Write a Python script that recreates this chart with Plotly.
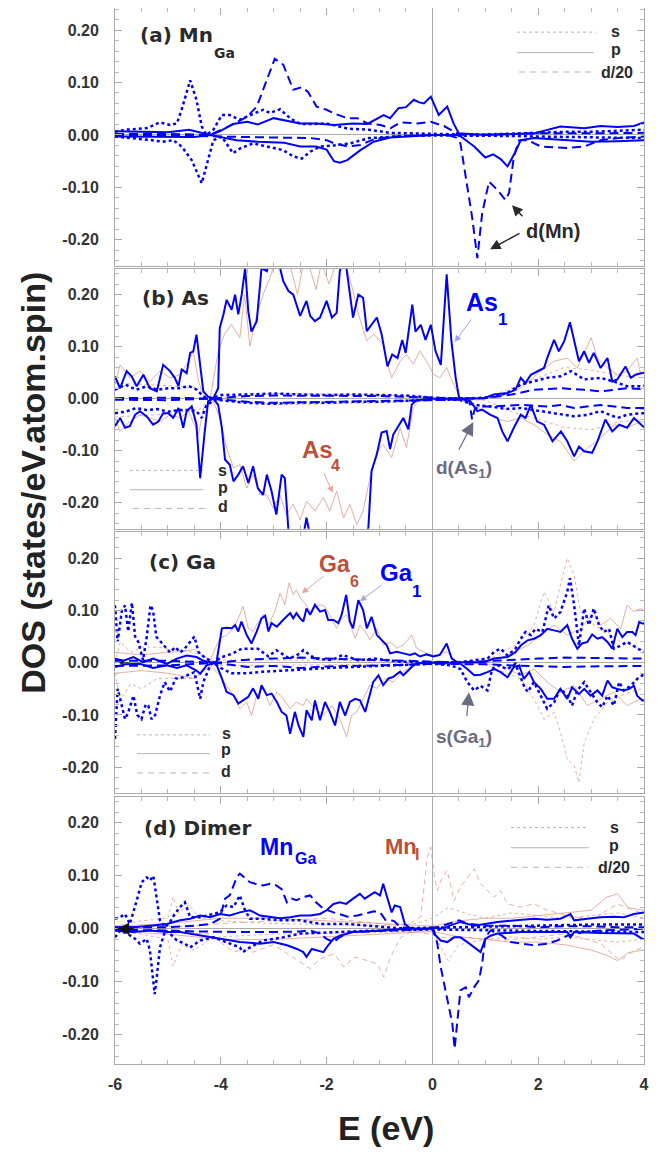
import plotly.graph_objects as go
from plotly.subplots import make_subplots

# ---------------- axis ticks ----------------
X_TICKS = [-6, -4, -2, 0, 2, 4]
X_TICK_LABELS = ["-6", "-4", "-2", "0", "2", "4"]
Y_TICKS = [-0.2, -0.1, 0.0, 0.1, 0.2]
Y_TICK_LABELS = ["-0.20", "-0.10", "0.00", "0.10", "0.20"]

# ---------------- panel (a) Mn_Ga : (E, DOS) ----------------
A_S_UP = [(-6.0,0.006),(-5.8,0.01),(-5.65,0.011),(-5.4,0.013),(-5.15,0.024),(-4.96,0.019),(-4.83,0.022),(-4.74,0.048),(-4.58,0.104),(-4.46,0.067),(-4.36,0.016),(-4.27,0.0),(-4.14,0.01),(-3.98,0.038),(-3.83,0.038),(-3.64,0.029),(-3.39,0.04),(-3.2,0.048),(-3.07,0.042),(-2.88,0.049),(-2.69,0.032),(-2.5,0.021),(-2.25,0.021),(-2.0,0.022),(-1.6,0.012),(-1.2,0.01),(-0.8,0.004),(-0.4,0.003),(0.0,0.002),(0.5,0.001),(1.0,0.001),(1.5,0.002),(2.0,0.004),(2.5,0.006),(3.0,0.006),(3.5,0.008),(4.0,0.01)]
A_S_DN = [(-6.0,-0.003),(-5.65,-0.006),(-5.3,-0.01),(-5.1,-0.013),(-4.9,-0.01),(-4.74,-0.022),(-4.55,-0.048),(-4.36,-0.092),(-4.24,-0.048),(-4.14,-0.01),(-3.98,-0.003),(-3.77,-0.035),(-3.64,-0.026),(-3.39,-0.016),(-3.13,-0.022),(-2.82,-0.029),(-2.63,-0.041),(-2.47,-0.045),(-2.31,-0.032),(-2.12,-0.022),(-1.86,-0.02),(-1.55,-0.016),(-1.2,-0.006),(-0.9,-0.004),(-0.5,-0.002),(0.0,-0.001),(0.5,-0.001),(1.0,-0.001),(1.5,-0.002),(2.0,-0.003),(2.5,-0.004),(3.0,-0.004),(3.5,-0.005),(4.0,-0.006)]
A_P_UP = [(-6.0,0.007),(-5.5,0.006),(-5.0,0.005),(-4.6,0.01),(-4.45,0.006),(-4.2,0.0),(-4.0,0.008),(-3.77,0.021),(-3.5,0.025),(-3.3,0.02),(-3.0,0.032),(-2.8,0.028),(-2.5,0.022),(-2.2,0.022),(-1.86,0.019),(-1.5,0.022),(-1.23,0.021),(-0.92,0.038),(-0.8,0.032),(-0.64,0.051),(-0.5,0.053),(-0.35,0.067),(-0.25,0.062),(-0.16,0.06),(-0.03,0.073),(0.12,0.038),(0.28,0.054),(0.4,0.022),(0.5,0.003),(1.0,0.0),(1.5,0.001),(1.92,0.003),(2.42,0.016),(2.87,0.013),(3.18,0.017),(3.5,0.015),(3.81,0.017),(4.0,0.024)]
A_P_DN = [(-6.0,-0.003),(-5.0,-0.004),(-4.5,-0.004),(-4.2,0.0),(-3.7,-0.01),(-3.3,-0.013),(-2.8,-0.015),(-2.5,-0.022),(-2.2,-0.022),(-2.0,-0.028),(-1.86,-0.05),(-1.75,-0.053),(-1.61,-0.048),(-1.36,-0.029),(-1.11,-0.013),(-0.8,-0.005),(-0.4,-0.002),(0.0,0.0),(0.5,0.0),(0.79,-0.022),(1.0,-0.043),(1.15,-0.037),(1.29,-0.046),(1.42,-0.06),(1.57,-0.032),(1.67,-0.01),(1.92,-0.006),(2.5,-0.01),(3.0,-0.013),(3.5,-0.012),(4.0,-0.01)]
A_D_UP = [(-6.0,0.002),(-5.0,0.002),(-4.2,0.0),(-3.77,0.02),(-3.5,0.035),(-3.32,0.054),(-3.13,0.105),(-2.98,0.145),(-2.82,0.134),(-2.63,0.086),(-2.47,0.091),(-2.35,0.082),(-2.19,0.054),(-2.0,0.048),(-1.86,0.041),(-1.61,0.032),(-1.42,0.032),(-1.23,0.022),(-0.98,0.019),(-0.79,0.013),(-0.6,0.024),(-0.28,0.022),(-0.03,0.025),(0.22,0.017),(0.41,0.006),(0.53,0.0),(1.0,0.001),(2.0,0.003),(3.0,0.003),(4.0,0.004)]
A_D_DN = [(-6.0,-0.002),(-4.5,-0.002),(-3.5,-0.004),(-2.8,-0.005),(-2.3,-0.006),(-2.0,-0.01),(-1.86,-0.016),(-1.6,-0.022),(-1.36,-0.019),(-1.1,-0.008),(-0.73,-0.003),(-0.03,0.0),(0.28,0.0),(0.45,-0.005),(0.53,-0.016),(0.63,-0.08),(0.75,-0.156),(0.85,-0.235),(0.94,-0.15),(1.07,-0.089),(1.23,-0.105),(1.38,-0.124),(1.45,-0.11),(1.54,-0.041),(1.64,-0.01),(1.8,-0.01),(2.05,-0.022),(2.55,-0.025),(2.87,-0.022),(3.18,-0.01),(3.6,-0.005),(4.0,-0.003)]

# ---------------- panel (b) As ----------------
B_P_UP = [(-6.0,0.043),(-5.905,0.02),(-5.78,0.053),(-5.685,0.043),(-5.59,0.024),(-5.465,0.046),(-5.34,0.02),(-5.21,0.014),(-5.09,0.065),(-4.96,0.053),(-4.87,0.04),(-4.8,0.024),(-4.74,0.056),(-4.645,0.049),(-4.58,0.088),(-4.52,0.091),(-4.46,0.123),(-4.39,0.062),(-4.33,0.014),(-4.24,0.004),(-4.14,0.001),(-4.05,0.02),(-4.02,0.136),(-3.95,0.162),(-3.89,0.19),(-3.795,0.171),(-3.73,0.2),(-3.67,0.162),(-3.605,0.2),(-3.54,0.251),(-3.48,0.168),(-3.42,0.129),(-3.32,0.149),(-3.23,0.251),(-3.13,0.245),(-3.07,0.27),(-2.95,0.28),(-2.82,0.226),(-2.72,0.207),(-2.63,0.2),(-2.5,0.159),(-2.38,0.188),(-2.31,0.159),(-2.22,0.149),(-2.125,0.156),(-2.0,0.188),(-1.9,0.156),(-1.81,0.165),(-1.75,0.246),(-1.65,0.27),(-1.56,0.197),(-1.5,0.156),(-1.4,0.2),(-1.31,0.194),(-1.24,0.13),(-1.15,0.143),(-1.05,0.156),(-0.96,0.124),(-0.85,0.062),(-0.76,0.085),(-0.66,0.078),(-0.57,0.113),(-0.505,0.088),(-0.38,0.181),(-0.32,0.129),(-0.22,0.142),(-0.13,0.113),(-0.03,0.142),(0.06,0.091),(0.16,0.065),(0.27,0.239),(0.36,0.11),(0.44,0.04),(0.5,0.004),(0.53,0.0),(0.975,0.001),(1.165,0.008),(1.42,0.011),(1.57,0.017),(1.67,0.04),(1.76,0.03),(1.86,0.046),(1.98,0.053),(2.11,0.059),(2.17,0.078),(2.3,0.113),(2.39,0.091),(2.49,0.11),(2.6,0.147),(2.68,0.11),(2.77,0.072),(2.87,0.091),(2.96,0.069),(3.05,0.088),(3.18,0.059),(3.31,0.078),(3.4,0.033),(3.495,0.037),(3.65,0.062),(3.75,0.04),(3.84,0.046),(3.94,0.049),(4.0,0.05)]
B_P_DN = [(-6.0,-0.053),(-5.905,-0.037),(-5.81,-0.056),(-5.72,-0.053),(-5.62,-0.031),(-5.53,-0.024),(-5.4,-0.034),(-5.28,-0.05),(-5.18,-0.044),(-5.09,-0.028),(-4.99,-0.028),(-4.9,-0.037),(-4.8,-0.018),(-4.71,-0.056),(-4.645,-0.024),(-4.55,-0.015),(-4.46,-0.05),(-4.39,-0.153),(-4.31,-0.069),(-4.24,-0.005),(-4.14,0.0),(-4.05,-0.012),(-3.98,-0.056),(-3.92,-0.117),(-3.83,-0.127),(-3.76,-0.159),(-3.67,-0.146),(-3.58,-0.13),(-3.48,-0.162),(-3.39,-0.13),(-3.3,-0.172),(-3.2,-0.185),(-3.13,-0.146),(-3.04,-0.178),(-2.95,-0.223),(-2.85,-0.146),(-2.79,-0.153),(-2.72,-0.255),(-2.6,-0.3),(-2.45,-0.27),(-2.38,-0.229),(-2.3,-0.27),(-2.0,-0.3),(-1.6,-0.3),(-1.3,-0.28),(-1.21,-0.247),(-1.15,-0.139),(-1.05,-0.107),(-0.96,-0.065),(-0.865,-0.062),(-0.8,-0.097),(-0.74,-0.069),(-0.645,-0.053),(-0.55,-0.037),(-0.455,-0.059),(-0.39,-0.011),(-0.3,-0.003),(0.0,0.0),(0.53,0.0),(0.72,-0.005),(0.85,-0.024),(0.94,-0.021),(1.1,-0.031),(1.23,-0.037),(1.32,-0.063),(1.42,-0.082),(1.54,-0.056),(1.67,-0.031),(1.76,-0.037),(1.86,-0.012),(1.98,-0.044),(2.11,-0.05),(2.27,-0.082),(2.43,-0.063),(2.55,-0.082),(2.68,-0.111),(2.77,-0.092),(2.87,-0.101),(3.02,-0.104),(3.12,-0.082),(3.27,-0.04),(3.4,-0.063),(3.53,-0.05),(3.68,-0.056),(3.81,-0.037),(3.94,-0.05),(4.0,-0.055)]
B_S_UP = [(-6.0,0.017),(-5.8,0.027),(-5.6,0.017),(-5.4,0.024),(-5.2,0.017),(-5.0,0.02),(-4.8,0.02),(-4.6,0.024),(-4.45,0.017),(-4.33,0.004),(-4.2,0.0),(-4.0,0.007),(-3.5,0.008),(-3.0,0.01),(-2.5,0.008),(-2.0,0.007),(-1.5,0.008),(-1.0,0.007),(-0.5,0.006),(0.0,0.002),(0.5,0.0),(1.0,0.002),(1.4,0.01),(1.67,0.027),(1.92,0.033),(2.17,0.04),(2.43,0.043),(2.62,0.053),(2.87,0.037),(3.18,0.04),(3.43,0.033),(3.68,0.024),(3.94,0.024),(4.0,0.025)]
B_S_DN = [(-6.0,-0.028),(-5.8,-0.025),(-5.6,-0.018),(-5.4,-0.022),(-5.2,-0.02),(-5.0,-0.025),(-4.8,-0.022),(-4.6,-0.022),(-4.46,-0.024),(-4.36,-0.037),(-4.27,-0.012),(-4.1,-0.002),(-3.5,-0.008),(-3.0,-0.01),(-2.5,-0.007),(-2.0,-0.008),(-1.5,-0.006),(-1.0,-0.006),(-0.5,-0.004),(0.0,-0.002),(0.5,-0.002),(0.8,-0.012),(1.1,-0.015),(1.4,-0.02),(1.67,-0.018),(2.04,-0.024),(2.42,-0.031),(2.68,-0.034),(2.93,-0.031),(3.18,-0.024),(3.5,-0.037),(3.68,-0.031),(3.94,-0.028),(4.0,-0.028)]
B_D_UP = [(-6.0,0.001),(-5.0,0.002),(-4.2,0.0),(-3.5,0.005),(-3.0,0.006),(-2.0,0.005),(-1.0,0.005),(0.0,0.002),(0.5,0.0),(1.0,0.001),(1.5,0.008),(1.92,0.017),(2.42,0.02),(2.87,0.017),(3.18,0.014),(3.68,0.02),(4.0,0.018)]
B_D_DN = [(-6.0,-0.002),(-5.0,-0.003),(-4.2,0.0),(-3.5,-0.006),(-3.0,-0.008),(-2.0,-0.006),(-1.0,-0.005),(0.0,-0.002),(0.5,-0.002),(0.7,-0.005),(0.75,-0.04),(0.8,-0.02),(0.9,-0.015),(1.17,-0.015),(1.67,-0.012),(2.17,-0.015),(2.42,-0.012),(2.68,-0.018),(3.18,-0.012),(3.68,-0.018),(4.0,-0.018)]
B_R_P_UP = [(-6.0,0.027),(-5.905,0.065),(-5.72,0.04),(-5.53,0.053),(-5.34,0.033),(-5.15,0.053),(-4.96,0.04),(-4.77,0.046),(-4.61,0.072),(-4.52,0.091),(-4.42,0.033),(-4.33,0.008),(-4.2,0.001),(-4.05,0.09),(-3.93,0.124),(-3.8,0.143),(-3.64,0.117),(-3.55,0.2),(-3.45,0.101),(-3.32,0.162),(-3.2,0.2),(-3.07,0.233),(-2.95,0.27),(-2.7,0.26),(-2.55,0.2),(-2.4,0.28),(-2.2,0.21),(-2.1,0.26),(-1.95,0.22),(-1.8,0.27),(-1.6,0.245),(-1.5,0.207),(-1.4,0.163),(-1.24,0.111),(-1.11,0.124),(-0.93,0.104),(-0.865,0.072),(-0.77,0.04),(-0.61,0.072),(-0.49,0.085),(-0.36,0.066),(-0.24,0.092),(-0.11,0.072),(0.02,0.047),(0.14,0.04),(0.27,0.06),(0.4,0.028),(0.52,0.002),(1.0,0.0),(1.3,0.005),(1.67,0.02),(2.05,0.053),(2.3,0.072),(2.55,0.078),(2.74,0.059),(3.0,0.117),(3.12,0.078),(3.31,0.059),(3.5,0.046),(3.68,0.053),(3.87,0.078),(3.94,0.046),(4.0,0.05)]
B_R_P_DN = [(-6.0,-0.037),(-5.905,-0.063),(-5.72,-0.044),(-5.53,-0.031),(-5.34,-0.037),(-5.15,-0.044),(-4.96,-0.031),(-4.77,-0.037),(-4.61,-0.024),(-4.42,-0.069),(-4.33,-0.018),(-4.14,-0.005),(-4.02,-0.037),(-3.89,-0.095),(-3.76,-0.133),(-3.64,-0.127),(-3.51,-0.172),(-3.39,-0.146),(-3.26,-0.185),(-3.13,-0.185),(-3.01,-0.21),(-2.88,-0.185),(-2.76,-0.223),(-2.63,-0.203),(-2.5,-0.233),(-2.38,-0.197),(-2.22,-0.216),(-2.06,-0.19),(-1.94,-0.216),(-1.81,-0.178),(-1.68,-0.229),(-1.56,-0.203),(-1.43,-0.242),(-1.31,-0.216),(-1.18,-0.152),(-1.05,-0.101),(-0.93,-0.088),(-0.77,-0.113),(-0.61,-0.056),(-0.49,-0.094),(-0.36,-0.017),(-0.24,-0.001),(0.0,0.0),(0.5,-0.002),(0.79,-0.012),(1.17,-0.037),(1.42,-0.044),(1.67,-0.037),(1.92,-0.05),(2.17,-0.069),(2.42,-0.082),(2.68,-0.12),(2.93,-0.095),(3.18,-0.076),(3.43,-0.05),(3.68,-0.056),(3.94,-0.044),(4.0,-0.045)]
B_R_S_UP = [(-6.0,0.03),(-5.0,0.025),(-4.4,0.02),(-4.2,0.0),(-3.0,0.01),(-1.0,0.008),(0.0,0.002),(1.0,0.002),(1.5,0.02),(2.0,0.04),(2.5,0.06),(3.0,0.055),(3.5,0.045),(4.0,0.04)]
B_R_S_DN = [(-6.0,-0.035),(-5.0,-0.03),(-4.4,-0.02),(-4.2,0.0),(-3.0,-0.012),(-1.0,-0.008),(0.0,-0.002),(1.0,-0.003),(1.5,-0.025),(2.0,-0.04),(2.5,-0.055),(3.0,-0.06),(3.5,-0.045),(4.0,-0.04)]

# ---------------- panel (c) Ga ----------------
C_P_UP = [(-6.0,0.008),(-5.84,0.004),(-5.65,0.011),(-5.47,0.001),(-5.28,0.008),(-5.02,-0.002),(-4.83,0.008),(-4.645,0.014),(-4.46,0.011),(-4.33,0.004),(-4.14,0.0),(-4.08,0.002),(-3.98,0.066),(-3.89,0.067),(-3.795,0.066),(-3.73,0.072),(-3.67,0.06),(-3.61,0.079),(-3.51,0.053),(-3.42,0.037),(-3.32,0.06),(-3.23,0.085),(-3.16,0.09),(-3.1,0.06),(-3.04,0.076),(-2.94,0.069),(-2.85,0.079),(-2.69,0.095),(-2.63,0.085),(-2.57,0.095),(-2.5,0.085),(-2.44,0.079),(-2.38,0.104),(-2.31,0.092),(-2.22,0.111),(-2.125,0.098),(-2.03,0.101),(-1.97,0.082),(-1.87,0.082),(-1.78,0.076),(-1.715,0.092),(-1.63,0.13),(-1.56,0.079),(-1.5,0.066),(-1.4,0.12),(-1.31,0.101),(-1.24,0.066),(-1.15,0.088),(-1.05,0.053),(-0.96,0.044),(-0.865,0.034),(-0.8,0.018),(-0.675,0.021),(-0.55,0.018),(-0.42,0.015),(-0.33,0.018),(-0.235,0.012),(-0.11,0.016),(0.02,0.012),(0.14,0.015),(0.27,0.037),(0.365,0.008),(0.46,0.002),(0.53,0.001),(0.975,0.001),(1.165,0.008),(1.42,0.011),(1.57,0.02),(1.67,0.033),(1.8,0.043),(1.92,0.046),(2.05,0.053),(2.17,0.065),(2.3,0.062),(2.42,0.059),(2.55,0.072),(2.64,0.046),(2.74,0.027),(2.83,0.037),(2.93,0.04),(3.02,0.054),(3.12,0.046),(3.21,0.049),(3.31,0.04),(3.4,0.027),(3.495,0.065),(3.59,0.049),(3.68,0.059),(3.78,0.059),(3.84,0.053),(3.91,0.078),(3.97,0.075),(4.0,0.075)]
C_P_DN = [(-6.0,-0.008),(-5.8,-0.003),(-5.53,-0.002),(-5.28,-0.01),(-5.02,-0.005),(-4.83,-0.01),(-4.645,-0.005),(-4.46,-0.015),(-4.39,-0.021),(-4.27,-0.005),(-4.14,0.0),(-4.08,-0.004),(-3.98,-0.03),(-3.89,-0.056),(-3.76,-0.062),(-3.67,-0.078),(-3.58,-0.072),(-3.48,-0.065),(-3.39,-0.049),(-3.29,-0.069),(-3.23,-0.043),(-3.13,-0.062),(-3.04,-0.059),(-2.94,-0.075),(-2.85,-0.094),(-2.76,-0.101),(-2.69,-0.136),(-2.6,-0.094),(-2.53,-0.12),(-2.44,-0.142),(-2.38,-0.091),(-2.28,-0.11),(-2.22,-0.072),(-2.125,-0.11),(-2.03,-0.075),(-1.94,-0.094),(-1.84,-0.12),(-1.75,-0.075),(-1.65,-0.101),(-1.56,-0.075),(-1.46,-0.069),(-1.37,-0.072),(-1.27,-0.094),(-1.18,-0.062),(-1.12,-0.037),(-1.02,-0.024),(-0.93,-0.043),(-0.83,-0.03),(-0.74,-0.027),(-0.61,-0.017),(-0.55,-0.024),(-0.39,-0.008),(-0.3,-0.001),(0.0,0.0),(0.5,0.0),(0.53,-0.002),(0.66,-0.012),(0.79,-0.024),(0.91,-0.023),(1.04,-0.018),(1.17,-0.012),(1.29,-0.018),(1.42,-0.028),(1.54,-0.008),(1.64,-0.005),(1.73,-0.031),(1.83,-0.018),(1.92,-0.037),(2.05,-0.05),(2.17,-0.069),(2.3,-0.069),(2.42,-0.05),(2.55,-0.069),(2.64,-0.047),(2.77,-0.06),(2.87,-0.05),(2.99,-0.063),(3.12,-0.053),(3.21,-0.063),(3.31,-0.034),(3.4,-0.047),(3.495,-0.05),(3.62,-0.053),(3.72,-0.05),(3.81,-0.044),(3.87,-0.063),(3.97,-0.072),(4.0,-0.072)]
C_S_UP = [(-6.0,0.11),(-5.95,0.04),(-5.87,0.1),(-5.81,0.11),(-5.75,0.06),(-5.68,0.115),(-5.62,0.05),(-5.56,0.04),(-5.47,0.005),(-5.4,0.05),(-5.33,0.11),(-5.28,0.1),(-5.22,0.05),(-5.13,0.04),(-5.05,0.03),(-4.96,0.02),(-4.86,0.03),(-4.77,0.02),(-4.7,0.025),(-4.58,0.04),(-4.5,0.05),(-4.42,0.02),(-4.3,0.01),(-4.14,0.0),(-4.0,0.01),(-3.8,0.017),(-3.6,0.027),(-3.3,0.027),(-3.1,0.012),(-2.95,0.024),(-2.7,0.008),(-2.5,0.018),(-2.44,0.024),(-2.22,0.008),(-1.9,0.005),(-1.7,0.015),(-1.4,0.005),(-1.1,0.008),(-0.6,0.002),(0.0,0.001),(0.5,0.001),(1.04,0.008),(1.17,0.021),(1.29,0.027),(1.42,0.014),(1.57,0.027),(1.67,0.046),(1.76,0.059),(1.86,0.053),(1.95,0.065),(2.08,0.059),(2.2,0.11),(2.3,0.085),(2.42,0.097),(2.55,0.136),(2.6,0.162),(2.68,0.11),(2.77,0.033),(2.87,0.104),(2.96,0.072),(3.05,0.104),(3.15,0.072),(3.24,0.059),(3.34,0.065),(3.43,0.027),(3.56,0.033),(3.68,0.04),(3.84,0.03),(3.97,0.021),(4.0,0.02)]
C_S_DN = [(-6.0,-0.146),(-5.95,-0.05),(-5.9,-0.07),(-5.81,-0.108),(-5.75,-0.095),(-5.65,-0.063),(-5.58,-0.1),(-5.5,-0.108),(-5.42,-0.08),(-5.37,-0.082),(-5.31,-0.108),(-5.24,-0.1),(-5.15,-0.063),(-5.06,-0.037),(-4.96,-0.055),(-4.85,-0.03),(-4.77,-0.03),(-4.645,-0.024),(-4.5,-0.018),(-4.39,-0.069),(-4.33,-0.037),(-4.2,-0.005),(-4.14,0.0),(-4.0,-0.01),(-3.8,-0.02),(-3.5,-0.02),(-3.2,-0.017),(-2.8,-0.015),(-2.4,-0.012),(-2.0,-0.01),(-1.5,-0.008),(-1.0,-0.006),(-0.5,-0.004),(0.0,-0.002),(0.35,-0.005),(0.53,-0.012),(0.66,-0.037),(0.79,-0.053),(0.91,-0.044),(1.04,-0.053),(1.13,-0.012),(1.23,-0.005),(1.42,-0.012),(1.57,-0.002),(1.73,-0.044),(1.8,-0.056),(1.92,-0.037),(2.05,-0.063),(2.17,-0.088),(2.3,-0.076),(2.42,-0.05),(2.55,-0.063),(2.64,-0.082),(2.74,-0.053),(2.87,-0.037),(2.99,-0.056),(3.12,-0.076),(3.21,-0.085),(3.31,-0.063),(3.43,-0.082),(3.53,-0.037),(3.62,-0.053),(3.75,-0.044),(3.87,-0.031),(3.97,-0.024),(4.0,-0.024)]
C_D_UP = [(-6.0,0.004),(-5.0,0.004),(-4.1,0.0),(-3.5,0.006),(-3.0,0.008),(-2.5,0.01),(-2.0,0.008),(-1.5,0.007),(-1.0,0.006),(-0.5,0.004),(0.0,0.002),(0.5,0.001),(1.0,0.003),(1.5,0.006),(2.0,0.008),(2.5,0.01),(3.0,0.009),(3.5,0.008),(4.0,0.008)]
C_D_DN = [(-6.0,-0.006),(-5.0,-0.005),(-4.1,0.0),(-3.5,-0.008),(-3.0,-0.006),(-2.5,-0.01),(-2.0,-0.007),(-1.5,-0.006),(-1.0,-0.006),(-0.5,-0.004),(0.0,-0.002),(0.5,-0.002),(1.0,-0.003),(1.5,-0.005),(2.0,-0.006),(2.5,-0.008),(3.0,-0.007),(3.5,-0.007),(4.0,-0.006)]
C_R_P_UP = [(-6.0,0.02),(-5.5,0.015),(-5.0,0.02),(-4.5,0.025),(-4.2,0.005),(-4.02,0.047),(-3.89,0.053),(-3.76,0.066),(-3.64,0.092),(-3.58,0.108),(-3.48,0.066),(-3.39,0.06),(-3.29,0.079),(-3.2,0.092),(-3.1,0.072),(-2.98,0.098),(-2.88,0.133),(-2.79,0.111),(-2.71,0.153),(-2.63,0.13),(-2.57,0.14),(-2.5,0.124),(-2.41,0.114),(-2.31,0.098),(-2.22,0.104),(-2.125,0.111),(-2.03,0.108),(-1.94,0.092),(-1.81,0.066),(-1.715,0.085),(-1.62,0.092),(-1.53,0.066),(-1.46,0.047),(-1.37,0.072),(-1.27,0.06),(-1.18,0.044),(-1.05,0.066),(-0.93,0.034),(-0.8,0.04),(-0.675,0.028),(-0.55,0.034),(-0.39,0.053),(-0.3,0.028),(-0.17,0.021),(-0.045,0.015),(0.08,0.015),(0.27,0.021),(0.46,0.002),(0.8,0.0),(1.2,0.005),(1.54,0.02),(1.8,0.033),(2.05,0.053),(2.3,0.072),(2.55,0.053),(2.8,0.065),(3.05,0.097),(3.18,0.072),(3.37,0.085),(3.56,0.065),(3.68,0.11),(3.81,0.098),(3.94,0.104),(4.0,0.1)]
C_R_P_DN = [(-6.0,-0.02),(-5.5,-0.015),(-5.0,-0.02),(-4.5,-0.03),(-4.2,-0.005),(-4.02,-0.024),(-3.89,-0.043),(-3.76,-0.062),(-3.64,-0.088),(-3.51,-0.075),(-3.42,-0.101),(-3.32,-0.062),(-3.2,-0.049),(-3.07,-0.082),(-2.94,-0.056),(-2.82,-0.069),(-2.69,-0.088),(-2.57,-0.075),(-2.44,-0.082),(-2.38,-0.069),(-2.22,-0.088),(-2.06,-0.101),(-1.9,-0.082),(-1.75,-0.107),(-1.62,-0.142),(-1.53,-0.101),(-1.43,-0.094),(-1.31,-0.069),(-1.18,-0.043),(-1.05,-0.049),(-0.9,-0.03),(-0.74,-0.037),(-0.55,-0.017),(-0.36,-0.004),(0.0,0.0),(1.0,-0.002),(1.29,-0.005),(1.67,-0.024),(1.92,-0.012),(2.17,-0.037),(2.42,-0.056),(2.68,-0.044),(2.93,-0.082),(3.18,-0.069),(3.43,-0.056),(3.68,-0.082),(3.94,-0.069),(4.0,-0.07)]
C_R_S_UP = [(-6.0,0.0),(-5.9,0.04),(-5.7,0.02),(-5.5,0.03),(-5.2,0.03),(-4.9,0.025),(-4.5,0.02),(-4.2,0.005),(-3.5,0.005),(-2.0,0.005),(0.0,0.001),(1.0,0.003),(1.67,0.04),(1.92,0.072),(2.11,0.136),(2.3,0.097),(2.42,0.149),(2.55,0.2),(2.68,0.168),(2.8,0.097),(2.93,0.091),(3.05,0.072),(3.31,0.059),(3.56,0.04),(3.94,0.027),(4.0,0.025)]
C_R_S_DN = [(-6.0,-0.02),(-5.9,-0.07),(-5.7,-0.04),(-5.5,-0.05),(-5.2,-0.03),(-4.9,-0.03),(-4.5,-0.03),(-4.2,-0.005),(-3.5,-0.005),(-2.0,-0.004),(0.0,-0.001),(1.0,-0.003),(1.67,-0.031),(1.92,-0.069),(2.11,-0.108),(2.3,-0.095),(2.42,-0.133),(2.55,-0.185),(2.68,-0.197),(2.77,-0.229),(2.87,-0.153),(3.05,-0.108),(3.31,-0.076),(3.56,-0.063),(3.94,-0.05),(4.0,-0.05)]

# ---------------- panel (d) Dimer ----------------
D_S_UP = [(-6.0,0.019),(-5.9,0.022),(-5.81,0.028),(-5.72,0.009),(-5.59,0.053),(-5.495,0.088),(-5.4,0.097),(-5.34,0.091),(-5.275,0.1),(-5.21,0.053),(-5.15,0.016),(-5.05,0.003),(-4.96,0.013),(-4.87,0.028),(-4.77,0.041),(-4.68,0.05),(-4.58,0.022),(-4.39,0.022),(-4.14,0.028),(-4.02,0.031),(-3.89,0.044),(-3.76,0.041),(-3.64,0.063),(-3.55,0.037),(-3.45,0.019),(-3.2,0.019),(-2.9,0.016),(-2.5,0.016),(-2.1,0.009),(-1.6,0.009),(-1.2,0.006),(-0.6,0.001),(0.0,0.002),(0.5,0.003),(1.0,0.004),(2.0,0.006),(3.0,0.008),(4.0,0.008)]
D_S_DN = [(-6.0,-0.016),(-5.9,-0.003),(-5.78,-0.009),(-5.65,-0.016),(-5.53,-0.028),(-5.4,-0.019),(-5.34,-0.041),(-5.29,-0.091),(-5.25,-0.123),(-5.21,-0.091),(-5.15,-0.035),(-5.05,-0.003),(-4.96,-0.009),(-4.83,-0.022),(-4.68,-0.028),(-4.58,-0.035),(-4.39,-0.022),(-4.14,-0.016),(-3.89,-0.025),(-3.64,-0.035),(-3.58,-0.044),(-3.45,-0.035),(-3.2,-0.022),(-2.82,-0.016),(-2.5,-0.009),(-1.87,-0.006),(-1.3,-0.004),(-0.7,-0.003),(0.0,-0.001),(0.5,-0.002),(1.0,-0.003),(2.0,-0.004),(3.0,-0.005),(4.0,-0.006)]
D_P_UP = [(-6.0,0.003),(-5.65,0.003),(-5.34,0.006),(-5.02,0.009),(-4.77,0.016),(-4.58,0.019),(-4.39,0.025),(-4.2,0.022),(-4.015,0.028),(-3.83,0.025),(-3.64,0.031),(-3.45,0.035),(-3.26,0.025),(-3.07,0.022),(-2.88,0.02),(-2.69,0.022),(-2.5,0.025),(-2.31,0.025),(-2.125,0.028),(-2.0,0.035),(-1.87,0.047),(-1.75,0.05),(-1.63,0.047),(-1.5,0.057),(-1.37,0.066),(-1.28,0.057),(-1.18,0.063),(-1.09,0.069),(-0.99,0.063),(-0.93,0.085),(-0.865,0.063),(-0.77,0.031),(-0.71,0.044),(-0.61,0.041),(-0.52,0.009),(-0.42,0.001),(-0.3,0.0),(-0.11,0.0),(0.02,0.003),(0.16,0.0),(0.53,0.013),(0.79,0.006),(1.23,0.013),(1.67,0.016),(1.92,0.019),(2.17,0.017),(2.42,0.019),(2.61,0.028),(2.68,0.016),(2.93,0.019),(3.18,0.022),(3.43,0.023),(3.62,0.022),(3.81,0.028),(3.97,0.031),(4.0,0.031)]
D_P_DN = [(-6.0,-0.003),(-5.65,-0.006),(-5.34,-0.003),(-5.02,-0.006),(-4.77,-0.006),(-4.58,-0.009),(-4.39,-0.013),(-4.015,-0.019),(-3.64,-0.025),(-3.26,-0.028),(-3.0,-0.025),(-2.75,-0.031),(-2.56,-0.038),(-2.44,-0.044),(-2.38,-0.053),(-2.28,-0.038),(-2.19,-0.041),(-2.06,-0.044),(-1.97,-0.031),(-1.87,-0.019),(-1.75,-0.013),(-1.5,-0.006),(-1.25,-0.005),(-0.99,-0.003),(-0.74,-0.001),(-0.5,0.0),(0.0,0.0),(0.03,-0.009),(0.157,-0.022),(0.28,-0.025),(0.41,-0.016),(0.53,-0.016),(0.66,-0.025),(0.79,-0.035),(0.91,-0.044),(1.0,-0.019),(1.1,-0.013),(1.23,-0.009),(1.67,-0.006),(2.55,-0.006),(2.61,-0.016),(2.68,-0.006),(3.18,-0.008),(3.81,-0.009),(3.97,-0.019),(4.0,-0.019)]
D_D_UP = [(-6.0,0.003),(-5.0,0.003),(-4.5,0.006),(-4.2,0.009),(-4.02,0.019),(-3.92,0.057),(-3.83,0.063),(-3.76,0.082),(-3.7,0.097),(-3.64,0.104),(-3.55,0.097),(-3.45,0.088),(-3.35,0.085),(-3.2,0.082),(-3.07,0.085),(-2.95,0.082),(-2.85,0.075),(-2.75,0.05),(-2.66,0.057),(-2.57,0.054),(-2.44,0.06),(-2.31,0.063),(-2.2,0.05),(-2.06,0.038),(-1.87,0.031),(-1.6,0.023),(-1.42,0.025),(-1.23,0.03),(-1.1,0.033),(-0.98,0.03),(-0.89,0.017),(-0.73,0.015),(-0.6,0.003),(-0.3,0.0),(0.0,0.0),(0.2,0.006),(0.5,0.016),(0.66,0.01),(1.0,0.006),(1.5,0.006),(2.0,0.003),(2.5,0.005),(3.0,0.005),(3.5,0.003),(4.0,0.003)]
D_D_DN = [(-6.0,-0.002),(-5.0,-0.003),(-4.5,-0.005),(-4.0,-0.006),(-3.5,-0.006),(-3.0,-0.006),(-2.5,-0.005),(-2.31,-0.003),(-2.125,-0.009),(-2.0,-0.019),(-1.87,-0.025),(-1.75,-0.016),(-1.56,-0.006),(-1.0,-0.004),(-0.5,-0.002),(0.0,0.0),(0.03,-0.003),(0.093,-0.028),(0.157,-0.072),(0.22,-0.104),(0.31,-0.148),(0.377,-0.179),(0.42,-0.226),(0.47,-0.179),(0.53,-0.116),(0.63,-0.11),(0.69,-0.129),(0.79,-0.11),(0.88,-0.097),(0.94,-0.066),(1.0,-0.016),(1.1,-0.003),(1.3,-0.012),(1.48,-0.025),(1.67,-0.028),(1.92,-0.031),(2.17,-0.028),(2.36,-0.022),(2.55,-0.013),(2.87,-0.006),(3.18,-0.003),(3.81,0.0),(4.0,0.0)]
D_R_D_UP = [(-6.0,0.003),(-4.5,0.005),(-4.0,0.01),(-3.0,0.015),(-2.0,0.02),(-1.0,0.01),(-0.5,0.005),(-0.22,0.022),(-0.16,0.072),(-0.096,0.135),(-0.03,0.154),(0.03,0.104),(0.093,0.072),(0.157,0.091),(0.28,0.11),(0.41,0.053),(0.53,0.079),(0.66,0.097),(0.79,0.113),(0.91,0.085),(1.04,0.072),(1.17,0.06),(1.29,0.072),(1.42,0.047),(1.67,0.041),(1.92,0.047),(2.17,0.035),(2.42,0.028),(2.68,0.022),(3.05,0.019),(3.49,0.047),(3.81,0.035),(4.0,0.028)]
D_R_D_DN = [(-6.0,-0.003),(-5.0,-0.005),(-4.2,-0.01),(-3.76,-0.044),(-3.58,-0.038),(-3.39,-0.044),(-3.0,-0.03),(-2.5,-0.063),(-2.31,-0.075),(-2.125,-0.057),(-1.86,-0.047),(-1.67,-0.072),(-1.48,-0.053),(-1.23,-0.06),(-1.04,-0.066),(-0.92,-0.091),(-0.79,-0.053),(-0.6,-0.016),(-0.35,-0.003),(-0.1,-0.009),(0.16,-0.016),(0.66,-0.016),(1.29,-0.022),(1.92,-0.016),(2.55,-0.009),(3.18,-0.028),(3.55,-0.06),(3.81,-0.041),(4.0,-0.035)]
D_R_P_UP = [(-6.0,0.005),(-5.0,0.01),(-4.5,0.015),(-4.0,0.02),(-3.0,0.02),(-2.0,0.015),(-1.0,0.01),(0.0,0.005),(0.5,0.015),(1.0,0.02),(1.5,0.02),(2.0,0.025),(2.5,0.03),(3.0,0.035),(3.3,0.06),(3.5,0.066),(3.7,0.04),(4.0,0.035)]
D_R_P_DN = [(-6.0,-0.005),(-5.0,-0.01),(-4.5,-0.015),(-4.0,-0.02),(-3.0,-0.02),(-2.0,-0.015),(-1.0,-0.01),(0.0,-0.005),(0.5,-0.015),(1.0,-0.02),(1.5,-0.025),(2.0,-0.025),(2.5,-0.03),(3.0,-0.04),(3.3,-0.05),(3.5,-0.06),(3.7,-0.045),(4.0,-0.04)]
D_R_S_UP = [(-6.0,0.005),(-5.5,0.015),(-5.0,0.02),(-4.9,0.06),(-4.8,0.03),(-4.6,0.045),(-4.4,0.02),(-4.0,0.015),(-3.0,0.01),(-2.0,0.008),(-1.0,0.006),(-0.3,0.01),(0.0,0.02),(0.3,0.04),(0.6,0.03),(1.0,0.02),(1.5,0.03),(2.0,0.025),(2.5,0.02),(3.0,0.025),(3.5,0.03),(4.0,0.02)]
D_R_S_DN = [(-6.0,-0.005),(-5.5,-0.01),(-5.0,-0.02),(-4.9,-0.07),(-4.75,-0.03),(-4.5,-0.04),(-4.2,-0.02),(-4.0,-0.015),(-3.0,-0.01),(-2.0,-0.008),(-1.0,-0.006),(0.0,-0.005),(0.3,-0.06),(0.5,-0.03),(1.0,-0.02),(1.5,-0.015),(2.0,-0.02),(2.5,-0.015),(3.0,-0.02),(3.5,-0.025),(4.0,-0.02)]

# ---------------- styling ----------------
BLUE = "#0000ff"
RED = "#e09a8a"
GRID = "#aaaaaa"
TXT = "#2a2a2a"
GRAYTXT = "#6b6b82"
BROWN = "#b9503b"
TICKFONT = dict(family="Liberation Sans, Arial, sans-serif", size=16, color="#333333", weight=700)
PANELFONT = "DejaVu Sans, Verdana, sans-serif"
LABFONT = "Liberation Sans, Arial, sans-serif"

Y_RANGES = [[-0.25, 0.242], [-0.25, 0.25], [-0.25, 0.25], [-0.255, 0.248]]
Y_DOMAINS = [[0.7556, 1.0], [0.5069, 0.7532], [0.2563, 0.5036], [0.0, 0.2525]]

fig = make_subplots(rows=4, cols=1, shared_xaxes=True, vertical_spacing=0.003)


def add(row, pts, color, width, dash):
    fig.add_trace(go.Scatter(x=[p[0] for p in pts], y=[p[1] for p in pts], mode="lines",
                             line=dict(color=color, width=width, dash=dash),
                             showlegend=False, hoverinfo="skip"), row=row, col=1)


SOLID, DOT, DASH = "solid", "dot", "9px,5px"
RDASH = "5px,4px"

# red (second-atom) curves first, underneath
for row, sets in [(2, [(B_R_P_UP, "solid"), (B_R_P_DN, "solid"), (B_R_S_UP, "dot"), (B_R_S_DN, "dot")]),
                  (3, [(C_R_P_UP, "solid"), (C_R_P_DN, "solid"), (C_R_S_UP, "dot"), (C_R_S_DN, "dot")]),
                  (4, [(D_R_D_UP, RDASH), (D_R_D_DN, RDASH), (D_R_P_UP, "solid"), (D_R_P_DN, "solid"),
                       (D_R_S_UP, "dot"), (D_R_S_DN, "dot")])]:
    for pts, dsh in sets:
        add(row, pts, RED, 0.8, dsh)

# blue curves
for row, sets in [(1, [A_S_UP, A_S_DN, A_P_UP, A_P_DN, A_D_UP, A_D_DN]),
                  (2, [B_S_UP, B_S_DN, B_P_UP, B_P_DN, B_D_UP, B_D_DN]),
                  (3, [C_S_UP, C_S_DN, C_P_UP, C_P_DN, C_D_UP, C_D_DN]),
                  (4, [D_S_UP, D_S_DN, D_P_UP, D_P_DN, D_D_UP, D_D_DN])]:
    add(row, sets[0], BLUE, 2.5, DOT)
    add(row, sets[1], BLUE, 2.5, DOT)
    add(row, sets[2], BLUE, 2.0, SOLID)
    add(row, sets[3], BLUE, 2.0, SOLID)
    add(row, sets[4], BLUE, 2.0, DASH)
    add(row, sets[5], BLUE, 2.0, DASH)

# axes
for r in range(1, 5):
    fig.update_xaxes(row=r, col=1, range=[-6, 4], tickmode="array", tickvals=X_TICKS, ticktext=X_TICK_LABELS,
                     ticks="inside", ticklen=7, tickwidth=1, tickcolor=GRID, showline=True, linecolor=GRID,
                     linewidth=1, mirror="allticks", showgrid=False, zeroline=True, zerolinecolor=GRID,
                     zerolinewidth=1, showticklabels=(r == 4), tickfont=TICKFONT, ticklabelstandoff=6,
                     minor=dict(ticks="inside", ticklen=4, tickcolor="#bbbbbb", dtick=0.5, tick0=0, showgrid=False))
    fig.update_yaxes(row=r, col=1, range=Y_RANGES[r - 1], domain=Y_DOMAINS[r - 1], tickmode="array",
                     tickvals=Y_TICKS, ticktext=Y_TICK_LABELS, ticks="inside", ticklen=7, tickwidth=1,
                     tickcolor=GRID, showline=True, linecolor=GRID, linewidth=1, mirror="allticks",
                     showgrid=False, zeroline=True, zerolinecolor=GRID, zerolinewidth=1,
                     tickfont=TICKFONT, ticklabelstandoff=12,
                     minor=dict(ticks="inside", ticklen=4, tickcolor="#bbbbbb", dtick=0.02, tick0=0, showgrid=False))


def ax(r):
    return ("x", "y") if r == 1 else ("x%d" % r, "y%d" % r)


def text(r, x, y, s, size, color=TXT, family=LABFONT, xanchor="left", yanchor="middle"):
    xr, yr = ax(r)
    fig.add_annotation(x=x, y=y, xref=xr, yref=yr, text=s, showarrow=False, xanchor=xanchor, yanchor=yanchor,
                       font=dict(family=family, size=size, color=color, weight=700))


def arrow(r, xh, yh, xt, yt, color, width=1.0, head=2, hsize=1.2):
    xr, yr = ax(r)
    fig.add_annotation(x=xh, y=yh, xref=xr, yref=yr, ax=xt, ay=yt, axref=xr, ayref=yr, text="",
                       showarrow=True, arrowhead=head, arrowsize=hsize, arrowwidth=width, arrowcolor=color)


def sample(r, x0, x1, y, dash):
    xr, yr = ax(r)
    fig.add_shape(type="line", xref=xr, yref=yr, x0=x0, x1=x1, y0=y, y1=y,
                  line=dict(color="#b5b5b5", width=1, dash=dash))


# panel (a)
text(1, -5.565, 0.191, "(a) Mn", 20, family=PANELFONT)
text(1, -4.17, 0.156, "Ga", 14, family=PANELFONT)
sample(1, 1.6, 3.09, 0.196, "dot")
sample(1, 1.6, 3.05, 0.157, "solid")
sample(1, 1.64, 3.05, 0.12, "6px,5px")
text(1, 3.47, 0.198, "s", 16, xanchor="center")
text(1, 3.47, 0.162, "p", 16, xanchor="center")
text(1, 3.49, 0.12, "d/20", 16, xanchor="center")
text(1, 1.73, -0.183, "d(Mn)", 20)
arrow(1, 1.505, -0.134, 1.73, -0.158, TXT, 1.5, 2, 1.4)
arrow(1, 1.09, -0.218, 1.675, -0.186, TXT, 1.5, 2, 1.4)

# panel (b)
text(2, -5.527, 0.193, "(b) As", 20, family=PANELFONT)
text(2, 0.597, 0.185, "As", 25, color=BLUE)
text(2, 1.197, 0.152, "1", 17, color=BLUE)
arrow(2, 0.421, 0.109, 0.755, 0.155, "#a0a3ff", 1.0, 2, 1.3)
text(2, -2.503, -0.0975, "As", 24, color=BROWN)
text(2, -1.955, -0.128, "4", 16, color=BROWN)
arrow(2, -1.885, -0.181, -2.063, -0.140, "#e7a898", 1.0, 2, 1.3)
text(2, 0.597, -0.136, "d(As<sub>1</sub>)", 19, color=GRAYTXT, xanchor="center")
arrow(2, 0.773, -0.045, 0.484, -0.101, GRAYTXT, 1.2, 2, 2.2)
sample(2, -5.716, -4.336, -0.138, "dot")
sample(2, -5.716, -4.336, -0.175, "solid")
sample(2, -5.66, -4.26, -0.211, "6px,5px")
text(2, -3.964, -0.138, "s", 16, xanchor="center")
text(2, -3.964, -0.17, "p", 16, xanchor="center")
text(2, -3.964, -0.207, "d", 16, xanchor="center")

# panel (c)
text(3, -5.40, 0.193, "(c) Ga", 20, family=PANELFONT)
text(3, -2.187, 0.189, "Ga", 23, color=BROWN)
text(3, -1.595, 0.156, "6", 16, color=BROWN)
arrow(3, -2.47, 0.133, -2.03, 0.168, "#e7a898", 1.0, 2, 1.3)
text(3, -1.023, 0.172, "Ga", 24, color=BLUE)
text(3, -0.423, 0.137, "1", 17, color=BLUE)
arrow(3, -1.369, 0.118, -0.928, 0.151, "#a8acc8", 1.0, 2, 1.3)
text(3, 0.597, -0.144, "s(Ga<sub>1</sub>)", 19, color=GRAYTXT, xanchor="center")
arrow(3, 0.692, -0.0565, 0.648, -0.105, GRAYTXT, 1.2, 2, 2.2)
sample(3, -5.584, -4.204, -0.138, "dot")
sample(3, -5.584, -4.204, -0.174, "solid")
sample(3, -5.584, -4.204, -0.211, "6px,5px")
text(3, -3.90, -0.136, "s", 16, xanchor="center")
text(3, -3.90, -0.166, "p", 16, xanchor="center")
text(3, -3.90, -0.208, "d", 16, xanchor="center")
fig.add_annotation(x=-5.93, y=0.0, xref="x3", yref="y3", ax=12, ay=0, text="", showarrow=True,
                   arrowhead=2, arrowsize=1.0, arrowwidth=1.0, arrowcolor="#222222")

# panel (d)
text(4, -5.495, 0.191, "(d) Dimer", 20, family=PANELFONT)
text(4, -3.29, 0.154, "Mn", 23, color=BLUE)
text(4, -2.63, 0.133, "Ga", 16, color=BLUE)
text(4, -0.94, 0.155, "Mn", 22, color=BROWN)
text(4, -0.361, 0.141, "I", 16, color=BROWN)
sample(4, 1.486, 2.96, 0.191, "dot")
sample(4, 1.486, 2.96, 0.153, "solid")
sample(4, 1.486, 2.96, 0.116, "6px,5px")
text(4, 3.44, 0.191, "s", 16, xanchor="center")
text(4, 3.44, 0.158, "p", 16, xanchor="center")
text(4, 3.44, 0.115, "d/20", 16, xanchor="center")
fig.add_annotation(x=-5.96, y=0.0, xref="x4", yref="y4", ax=18, ay=0, text="", showarrow=True,
                   arrowhead=2, arrowsize=1.6, arrowwidth=1.5, arrowcolor="#111111")

# axis titles
fig.add_annotation(x=-0.154, y=0.550, xref="paper", yref="paper", text="DOS (states/eV.atom.spin)",
                   textangle=-90, showarrow=False, xanchor="center", yanchor="middle",
                   font=dict(family="Liberation Sans, Arial, sans-serif", size=34,
                             color="#222222", weight=700))
fig.add_annotation(x=0.512, y=-0.0606, xref="paper", yref="paper", text="E (eV)", showarrow=False,
                   xanchor="center", yanchor="middle",
                   font=dict(family="Liberation Sans, Arial, sans-serif", size=34,
                             color="#222222", weight=700))

fig.update_layout(width=668, height=1152, margin=dict(l=107, r=32, t=0, b=96),
                  plot_bgcolor="white", paper_bgcolor="white", showlegend=False)

fig.write_html("out.html")
